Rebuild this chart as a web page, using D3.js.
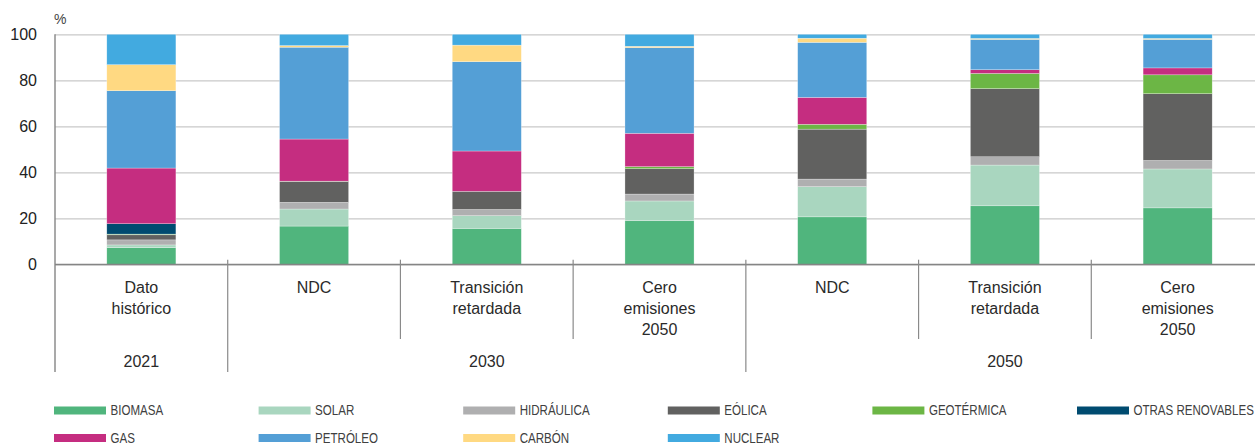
<!DOCTYPE html>
<html>
<head>
<meta charset="utf-8">
<script src="https://cdn.jsdelivr.net/npm/d3@7"></script>
<style>
  html, body { margin: 0; padding: 0; background: #fff; }
  svg { display: block; font-family: "Liberation Sans", Arial, sans-serif; }
</style>
</head>
<body>
<svg id="chart" width="1255" height="446"></svg>
<script>
// Scenario columns (bottom axis, first row) and their year groups (second row)
const categories = [
  ["Dato", "histórico"],
  ["NDC"],
  ["Transición", "retardada"],
  ["Cero", "emisiones", "2050"],
  ["NDC"],
  ["Transición", "retardada"],
  ["Cero", "emisiones", "2050"]
];
const groups = [
  { label: "2021", from: 0, to: 0 },
  { label: "2030", from: 1, to: 3 },
  { label: "2050", from: 4, to: 6 }
];

// Share of each source, %, per column (stacked bottom to top)
const biomasa    = [7.3, 16.7, 15.7, 19.0, 20.7, 25.5, 24.6];
const solar      = [1.2, 7.4, 5.5, 8.6, 13.1, 17.7, 16.9];
const hidraulica = [2.2, 2.9, 2.7, 3.0, 3.3, 3.6, 3.7];
const eolica     = [2.2, 9.1, 7.9, 11.0, 21.7, 29.6, 29.0];
const geotermica = [0.3, 0.1, 0.0, 0.9, 2.1, 6.6, 8.2];
const otras      = [4.5, 0.0, 0.0, 0.0, 0.0, 0.0, 0.0];
const gas        = [24.2, 18.3, 17.5, 14.5, 11.7, 1.6, 3.0];
const petroleo   = [33.6, 39.9, 38.8, 37.2, 23.9, 13.2, 12.4];
const carbon     = [11.3, 0.7, 7.2, 0.6, 1.8, 0.4, 0.4];
const nuclear    = [13.2, 4.9, 4.7, 5.2, 1.7, 1.8, 1.8];

const seriesNames  = ["BIOMASA", "SOLAR", "HIDRÁULICA", "EÓLICA", "GEOTÉRMICA", "OTRAS RENOVABLES", "GAS", "PETRÓLEO", "CARBÓN", "NUCLEAR"];
const seriesValues = [biomasa, solar, hidraulica, eolica, geotermica, otras, gas, petroleo, carbon, nuclear];
const seriesColors = ["#50b57d", "#a9d6bf", "#afafb0", "#616160", "#6cb645", "#004b70", "#c52d80", "#549fd6", "#ffd982", "#42aae0"];

const yTicks = [0, 20, 40, 60, 80, 100];

// Build a row table for d3.stack
const rows = categories.map((c, i) => {
  const r = { idx: i };
  seriesNames.forEach((s, k) => { r[s] = seriesValues[k][i]; });
  return r;
});

const svg = d3.select("#chart");

const x0 = 55, x1 = 1264;       // plot extends slightly past the right edge
const yTop = 34.3, yBottom = 264.5;

const x = d3.scaleBand()
  .domain(d3.range(categories.length))
  .range([x0, x1])
  .paddingInner(0.6)
  .paddingOuter(0.3);
const step = x.step();

const y = d3.scaleLinear().domain([0, 100]).range([yBottom, yTop]);

// Gridlines + y tick labels
const yAxis = d3.axisLeft(y)
  .tickValues(yTicks)
  .tickSize(-(1255 - x0))
  .tickPadding(18)
  .tickFormat(d3.format("d"));

const gy = svg.append("g")
  .attr("transform", `translate(${x0},0)`)
  .call(yAxis);
gy.select(".domain").remove();
gy.selectAll(".tick line").attr("stroke", "#c9c9c9").attr("stroke-width", 1.2);
gy.selectAll(".tick text")
  .attr("fill", "#222")
  .style("font-size", "16px");

svg.append("text")
  .attr("x", 54).attr("y", 24)
  .attr("fill", "#444")
  .style("font-size", "14px")
  .text("%");

// Stacked bars
const stack = d3.stack().keys(seriesNames);
const stacked = stack(rows);

svg.append("g")
  .selectAll("g")
  .data(stacked)
  .join("g")
  .attr("fill", (d, i) => seriesColors[i])
  .selectAll("rect")
  .data(d => d)
  .join("rect")
  .attr("x", d => x(d.data.idx))
  .attr("width", x.bandwidth())
  .attr("y", d => y(d[1]))
  .attr("height", d => Math.max(0, y(d[0]) - y(d[1])))
  .attr("stroke", "#ffffff")
  .attr("stroke-opacity", 0.55)
  .attr("stroke-width", 0.5);

// Axis lines
const axisColor = "#858585";
svg.append("line")
  .attr("x1", x0).attr("x2", 1255)
  .attr("y1", yBottom).attr("y2", yBottom)
  .attr("stroke", axisColor).attr("stroke-width", 1.6);
svg.append("line")
  .attr("x1", x0).attr("x2", x0)
  .attr("y1", yTop).attr("y2", 372)
  .attr("stroke", axisColor).attr("stroke-width", 1.4);

// Column separators: long ones between year groups, short ones inside a group
const groupStarts = new Set(groups.map(g => g.from));
d3.range(1, categories.length + 1).forEach(i => {
  const xx = x0 + i * step;
  const isGroupEdge = groupStarts.has(i) || i === categories.length;
  svg.append("line")
    .attr("x1", xx).attr("x2", xx)
    .attr("y1", 259.7)
    .attr("y2", isGroupEdge ? 372 : 339)
    .attr("stroke", "#8a8a8a").attr("stroke-width", 1.2);
});

// Column labels
const lab = svg.append("g")
  .attr("fill", "#2a2a2a")
  .style("font-size", "16px")
  .attr("text-anchor", "middle");
categories.forEach((lines, i) => {
  const t = lab.append("text")
    .attr("x", x(i) + x.bandwidth() / 2)
    .attr("y", 292.5);
  lines.forEach((ln, j) => {
    t.append("tspan")
      .attr("x", x(i) + x.bandwidth() / 2)
      .attr("dy", j === 0 ? 0 : 21)
      .text(ln);
  });
});

// Year group labels
groups.forEach(g => {
  const cx = (x(g.from) + x(g.to) + x.bandwidth()) / 2;
  lab.append("text")
    .attr("x", cx)
    .attr("y", 367)
    .text(g.label);
});

// Legend: six columns, two rows (condensed caps)
const legend = svg.append("g");
const legX0 = 54, legDx = 204.6, legY0 = 406.5, legDy = 27.5;
seriesNames.forEach((name, i) => {
  const col = i % 6, row = Math.floor(i / 6);
  const lx = legX0 + col * legDx;
  const ly = legY0 + row * legDy;
  legend.append("rect")
    .attr("x", lx).attr("y", ly)
    .attr("width", 52).attr("height", 8)
    .attr("fill", seriesColors[i]);
  legend.append("text")
    .attr("transform", `translate(${lx + 56.5},${ly + 8.6}) scale(0.77,1)`)
    .attr("fill", "#404040")
    .style("font-size", "15px")
    .text(name);
});
</script>
</body>
</html>
